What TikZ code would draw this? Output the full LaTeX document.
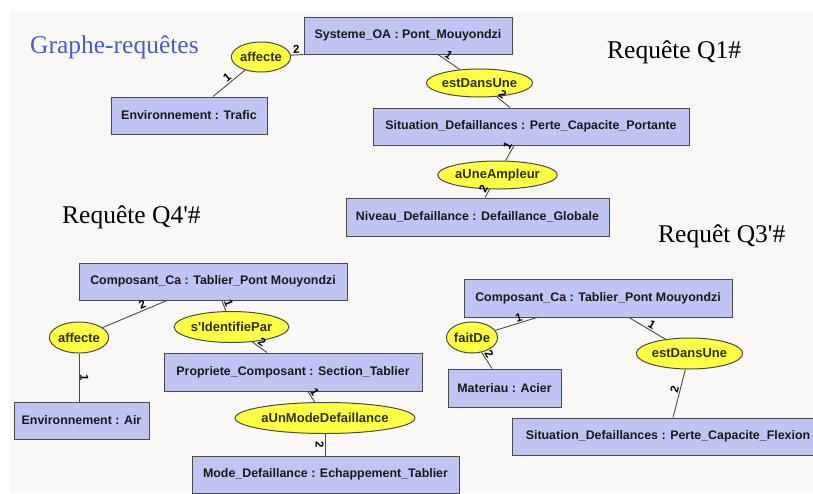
\documentclass[tikz,border=0pt]{standalone}
\usepackage{fontspec}
\setmainfont{Liberation Serif}
\setsansfont{Liberation Sans}
\usetikzlibrary{shapes.geometric}
\definecolor{bgc}{HTML}{F9F8F7}
\definecolor{boxc}{HTML}{C0C4F2}
\definecolor{edgec}{HTML}{4A4A4A}
\definecolor{ellc}{HTML}{FFFF44}
\definecolor{titleblue}{HTML}{4A5AD2}
\definecolor{elltext}{HTML}{303000}
\tikzset{
  concept/.style={draw=edgec, line width=1pt, fill=boxc, rectangle, inner sep=0pt,
    font=\sffamily\bfseries\fontsize{12.4}{14}\selectfont, text=black!90},
  relation/.style={draw=edgec, line width=1pt, fill=ellc, ellipse, inner sep=0pt,
    font=\sffamily\bfseries\fontsize{13}{15}\selectfont, text=elltext},
  link/.style={draw=edgec, line width=0.9pt},
  lab/.style={font=\sffamily\bfseries\fontsize{11.5}{12}\selectfont, inner sep=1pt, sloped},
  titre/.style={anchor=base west, inner sep=0pt, font=\fontsize{25.5}{28}\selectfont}
}
\begin{document}
\begin{tikzpicture}[x=1pt,y=-1pt]
\useasboundingbox (0,0) rectangle (813,493);
\clip (0,0) rectangle (813,493);
\fill[bgc] (10,11) rectangle (813,493);

% titles
\node[titre, text=titleblue] (t0) at (30,53) {Graphe-requêtes};
\node[titre] (t1) at (607,58) {Requête Q1\#};
\node[titre] (t4) at (62,223) {Requête Q4\textquotesingle\#};
\node[titre] (t3) at (658,242) {Requêt Q3\textquotesingle\#};

% Q1 group
\node[concept, minimum width=208, minimum height=37] (sys) at (408,35.5) {Systeme\_OA : Pont\_Mouyondzi};
\node[concept, minimum width=156, minimum height=37] (env1) at (189,115.5) {Environnement : Trafic};
\node[concept, minimum width=316, minimum height=37] (sit1) at (531,126.5) {Situation\_Defaillances : Perte\_Capacite\_Portante};
\node[concept, minimum width=263, minimum height=38] (niv) at (477.5,217) {Niveau\_Defaillance : Defaillance\_Globale};
\node[relation, minimum width=55, minimum height=30] (aff1) at (261,57) {affecte};
\node[relation, minimum width=86, minimum height=28] (eds1) at (479.5,83) {estDansUne};
\node[relation, minimum width=100, minimum height=28] (aua) at (497.5,175) {aUneAmpleur};

\draw[link] (aff1) -- node[lab, above, pos=0.45] {2} (sys.south west);
\draw[link] (aff1) -- node[lab, above, pos=0.45] {1} ([xshift=24pt]env1.north);
\draw[link] ([xshift=30pt]sys.south) -- node[lab, above, pos=0.35] {1} (eds1);
\draw[link] (eds1) -- node[lab, above, pos=0.2] {2} ([xshift=-21pt]sit1.north);
\draw[link] ([xshift=-17pt]sit1.south) -- node[lab, above, pos=0.2] {1} (aua);
\draw[link] (aua) -- node[lab, above, pos=0.3] {2} ([xshift=7.5pt]niv.north);

% Q4 group
\node[concept, minimum width=268, minimum height=37] (comp4) at (213,281.5) {Composant\_Ca : Tablier\_Pont Mouyondzi};
\node[concept, minimum width=135, minimum height=37] (env2) at (81.5,420.5) {Environnement : Air};
\node[concept, minimum width=258, minimum height=38] (prop) at (293,372) {Propriete\_Composant : Section\_Tablier};
\node[concept, minimum width=267, minimum height=37] (mode) at (325.5,474.5) {Mode\_Defaillance : Echappement\_Tablier};
\node[relation, minimum width=55, minimum height=31] (aff2) at (79,337.5) {affecte};
\node[relation, minimum width=92, minimum height=31] (sid) at (231.5,327) {s\textquotesingle IdentifiePar};
\node[relation, minimum width=140, minimum height=31] (aumd) at (325,418) {aUnModeDefaillance};

\draw[link] ([xshift=-46pt]comp4.south) -- node[lab, above, pos=0.35] {2} (aff2);
\draw[link] (aff2.south) -- node[lab, above, pos=0.5] {1} (aff2.south |- env2.north);
\draw[link] ([xshift=9pt]comp4.south) -- node[lab, above, pos=0.4] {1} (sid);
\draw[link] (sid) -- node[lab, above, pos=0.45] {2} ([xshift=-26pt]prop.north);
\draw[link] ([xshift=15pt]prop.south) -- node[lab, above, pos=0.3] {1} (aumd);
\draw[link] (aumd.south) -- node[lab, below, pos=0.5] {2} (aumd.south |- mode.north);

% Q3 group
\node[concept, minimum width=268, minimum height=38] (comp3) at (598,298) {Composant\_Ca : Tablier\_Pont Mouyondzi};
\node[concept, minimum width=113, minimum height=38] (mat) at (504.5,388) {Materiau : Acier};
\node[concept, minimum width=312, minimum height=37] (sit3) at (668,436.5) {Situation\_Defaillances : Perte\_Capacite\_Flexion};
\node[relation, minimum width=51, minimum height=31] (fd) at (472,337.5) {faitDe};
\node[relation, minimum width=86, minimum height=31] (eds3) at (689.5,353.5) {estDansUne};

\draw[link] ([xshift=-61pt]comp3.south) -- node[lab, above, pos=0.4] {1} (fd);
\draw[link] (fd) -- node[lab, above, pos=0.3] {2} ([xshift=-12.5pt]mat.north);
\draw[link] ([xshift=31pt]comp3.south) -- node[lab, above, pos=0.55] {1} (eds3);
\draw[link] (eds3) -- node[lab, above, pos=0.45] {2} ([xshift=5pt]sit3.north);
\end{tikzpicture}
\end{document}
